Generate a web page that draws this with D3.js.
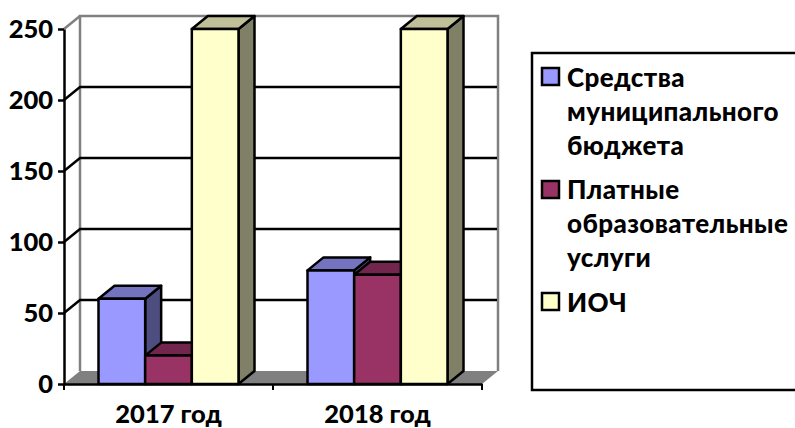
<!DOCTYPE html>
<html>
<head>
<meta charset="utf-8">
<script src="https://cdn.jsdelivr.net/npm/d3@7"></script>
<style>
  html, body { margin: 0; padding: 0; background: #fff; overflow: hidden; }
  text { font-family: Lato, "Open Sans", sans-serif; font-weight: 900; fill: #000; }
</style>
</head>
<body>
<svg id="chart" width="795" height="428"></svg>
<script>
// Данные
const categories = ["2017 год", "2018 год"];
const seriesNames = ["Средства муниципального бюджета", "Платные образовательные услуги", "ИОЧ"];
const budget = [60, 80];
const paid = [20, 77];
const ioch = [250, 250];
const yTicks = [0, 50, 100, 150, 200, 250];
const legendLines = [["Средства", "муниципального", "бюджета"], ["Платные", "образовательные", "услуги"], ["ИОЧ"]];
const faceColors = ["#9999ff", "#993366", "#ffffcc"];
const topColors = ["#7373bf", "#73264d", "#bfbf99"];
const sideColors = ["#4d4d80", "#4d1a33", "#808066"];

const allValues = [budget, paid, ioch];
const svg = d3.select("#chart");

const plotLeft = 64, plotRight = 482, plotBottom = 384, plotTop = 29;
const depthX = 16, depthY = 13; // глубина 3D

const x0 = d3.scaleBand().domain(categories).range([plotLeft, plotRight]);
const x1 = d3.scaleBand().domain(seriesNames).range([34.5, x0.bandwidth() - 34.5]);
const y = d3.scaleLinear().domain([0, 250]).range([plotBottom, plotTop]);

const pts = a => a.map(p => p.join(",")).join(" ");

// Пол
svg.append("polygon")
  .attr("points", pts([[plotLeft, plotBottom], [plotLeft + depthX, plotBottom - depthY], [plotRight + depthX, plotBottom - depthY], [plotRight, plotBottom]]))
  .attr("fill", "#808080");

// Стенки
svg.append("path")
  .attr("d", `M${plotLeft + depthX},${y(0) - depthY}V${y(250) - depthY}H${plotRight + depthX}V${y(0) - depthY}`)
  .attr("fill", "none").attr("stroke", "#808080").attr("stroke-width", 2.5);

svg.append("line")
  .attr("x1", plotLeft).attr("y1", y(250))
  .attr("x2", plotLeft + depthX).attr("y2", y(250) - depthY)
  .attr("stroke", "#808080").attr("stroke-width", 2.5);

// Сетка
yTicks.filter(d => d > 0 && d < 250).forEach(d => {
  svg.append("path")
    .attr("d", `M${plotLeft},${y(d)}L${plotLeft + depthX},${y(d) - depthY}H${plotRight + depthX - 1}`)
    .attr("fill", "none").attr("stroke", "#000").attr("stroke-width", 2.5);
});

// Столбцы
categories.forEach((cat, i) => {
  seriesNames.forEach((name, s) => {
    const xa = x0(cat) + x1(name), xb = xa + x1.bandwidth();
    const yt = y(allValues[s][i]);
    const g = svg.append("g").attr("stroke", "#000").attr("stroke-width", 2.5).attr("stroke-linejoin", "round");
    g.append("polygon")
      .attr("points", pts([[xb, yt], [xb + depthX, yt - depthY], [xb + depthX, plotBottom - depthY], [xb, plotBottom]]))
      .attr("fill", sideColors[s]);
    g.append("polygon")
      .attr("points", pts([[xa, yt], [xa + depthX, yt - depthY], [xb + depthX, yt - depthY], [xb, yt]]))
      .attr("fill", topColors[s]);
    g.append("rect")
      .attr("x", xa).attr("y", yt)
      .attr("width", x1.bandwidth()).attr("height", plotBottom - yt)
      .attr("fill", faceColors[s]);
  });
});

// Ось Y
const yAxis = svg.append("g")
  .attr("transform", `translate(${plotLeft},0)`)
  .call(d3.axisLeft(y).tickValues(yTicks).tickSize(6).tickPadding(5).tickSizeOuter(0));
yAxis.selectAll("path, line").attr("stroke", "#000").attr("stroke-width", 2.5);
yAxis.selectAll("text").style("font-size", "25.5px");
yAxis.attr("font-family", null).attr("font-size", null);

// Ось X
const xAxis = svg.append("g")
  .attr("transform", `translate(0,${plotBottom})`)
  .call(d3.axisBottom(x0).tickSize(0).tickPadding(21));
xAxis.select("path").attr("stroke", "#000").attr("stroke-width", 2.5);
xAxis.selectAll("text").style("font-size", "25.5px");
xAxis.attr("font-family", null).attr("font-size", null);
[plotLeft, plotLeft + x0.step(), plotLeft + 2 * x0.step()].forEach(tx => {
  xAxis.append("line")
    .attr("x1", tx).attr("x2", tx).attr("y1", 0).attr("y2", 6)
    .attr("stroke", "#000").attr("stroke-width", 2);
});

// Легенда
svg.append("rect")
  .attr("x", 532).attr("y", 53).attr("width", 280).attr("height", 337)
  .attr("fill", "none").attr("stroke", "#000").attr("stroke-width", 2.5);

const swatchY = [68, 181, 293];
const firstBaseline = [87, 199, 312];
legendLines.forEach((lines, i) => {
  svg.append("rect")
    .attr("x", 542).attr("y", swatchY[i]).attr("width", 17).attr("height", 17)
    .attr("fill", faceColors[i]).attr("stroke", "#000").attr("stroke-width", 2.5);
  lines.forEach((t, j) => {
    svg.append("text")
      .attr("x", 567).attr("y", firstBaseline[i] + j * 33.8)
      .style("font-size", "26px")
      .style("letter-spacing", "0.4px")
      .text(t);
  });
});
</script>
</body>
</html>
